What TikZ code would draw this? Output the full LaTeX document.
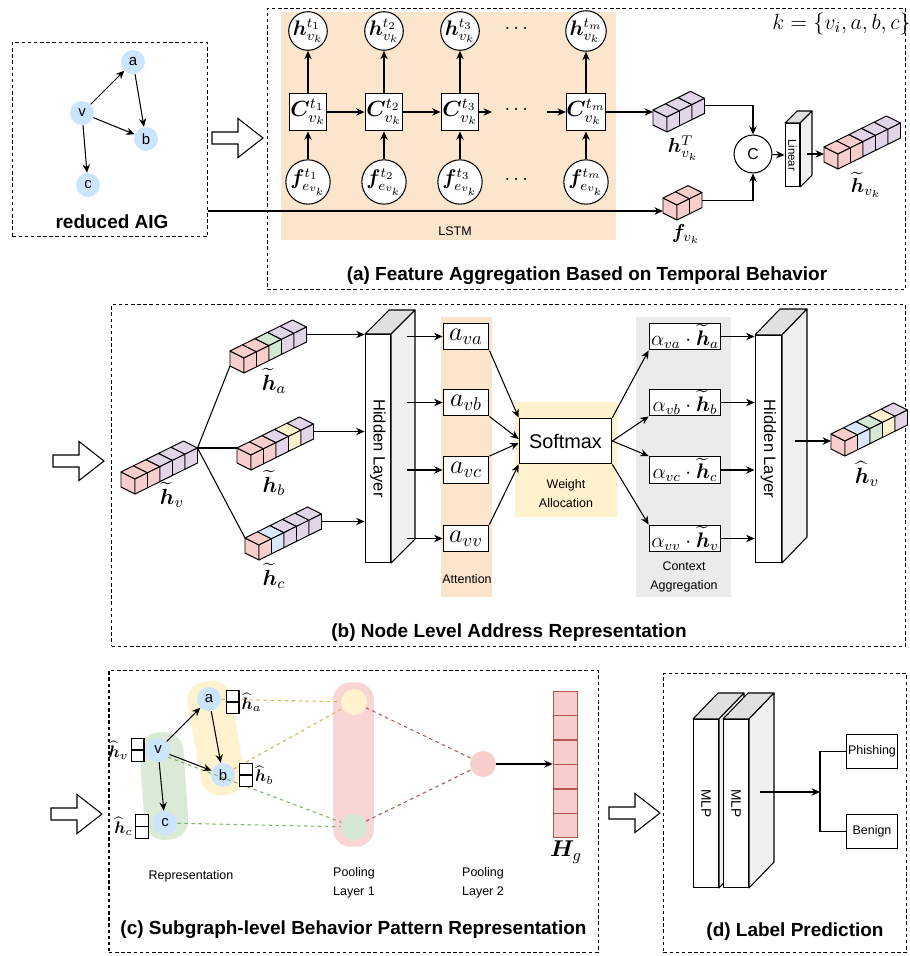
\RequirePackage{fix-cm}
\documentclass[tikz,border=0pt]{standalone}
\usepackage{amsmath,bm}
\usepackage[no-math]{fontspec}
\newfontfamily\arial{Liberation Sans}
\usetikzlibrary{arrows.meta,calc}
\newcommand{\pxu}{0.5669pt}
\definecolor{peach}{RGB}{252,229,205}
\definecolor{lyellow}{RGB}{255,242,204}
\definecolor{lgray}{RGB}{235,235,235}
\definecolor{cpink}{RGB}{248,206,204}
\definecolor{cpurple}{RGB}{225,213,231}
\definecolor{cgreen}{RGB}{213,232,212}
\definecolor{cyellow}{RGB}{255,242,204}
\definecolor{cblue}{RGB}{218,232,252}
\definecolor{nodeblue}{RGB}{204,229,255}
\definecolor{dred}{RGB}{184,84,80}
\definecolor{dorange}{RGB}{214,182,86}
\definecolor{dgreen}{RGB}{130,179,102}
\definecolor{slabside}{RGB}{240,240,240}
\definecolor{slabtop}{RGB}{224,224,224}
\definecolor{gblobc}{RGB}{218,234,214}
\definecolor{yblobc}{RGB}{255,242,206}
\definecolor{poolpink}{RGB}{248,214,212}
\tikzset{
  ln/.style={line width=0.6pt},
  arr/.style={line width=0.6pt, -{Stealth[length=4.8pt,width=4.2pt]}},
  dbox/.style={draw, line width=0.6pt, dash pattern=on 2pt off 1.5pt, inner sep=0pt},
  gnode/.style={circle, fill=nodeblue, minimum size=24*\pxu, inner sep=0pt, font=\arial\fontsize{8.5}{9}\selectfont},
  circ/.style={circle, draw, line width=0.6pt, fill=white, minimum size=36.5*\pxu, inner sep=0pt, font=\fontsize{12}{13}\selectfont},
  sqbox/.style={rectangle, draw, line width=0.6pt, fill=white, minimum size=38*\pxu, inner sep=0pt, font=\fontsize{12.5}{13}\selectfont},
  cube/.style={line width=0.55pt, line join=round},
  small/.style={font=\arial\fontsize{7.1}{10.8}\selectfont, align=center, inner sep=0pt},
  ttl/.style={font=\arial\bfseries\fontsize{10.8}{13}\selectfont, inner sep=0pt},
  mA/.style={font=\fontsize{11.5}{13}\selectfont, inner sep=0pt},
  mB/.style={font=\fontsize{12.5}{14}\selectfont, inner sep=0pt},
  mC/.style={font=\fontsize{9.5}{11}\selectfont, inner sep=1pt},
  abox/.style={draw, line width=0.6pt, fill=white, minimum width=46*\pxu, minimum height=27*\pxu, inner sep=0pt, font=\fontsize{15}{16}\selectfont},
  cbox/.style={draw, line width=0.6pt, fill=white, minimum width=72*\pxu, minimum height=27*\pxu, inner sep=0pt, font=\fontsize{12}{13}\selectfont},
  lbox/.style={draw, line width=0.6pt, fill=white, minimum width=52*\pxu, minimum height=35*\pxu, inner sep=0pt, font=\arial\fontsize{7.1}{9}\selectfont},
  dashY/.style={draw=dorange, line width=0.6pt, dash pattern=on 2pt off 2pt},
  dashG/.style={draw=dgreen, line width=0.6pt, dash pattern=on 2pt off 2pt},
  dashR/.style={draw=dred, line width=0.6pt, dash pattern=on 2pt off 2pt},
  hgcell/.style={draw=dred, fill=cpink, line width=0.6pt, minimum width=25*\pxu, minimum height=24.5*\pxu, inner sep=0pt},
  vbox/.style={draw, line width=0.6pt, fill=white, minimum width=13*\pxu, minimum height=24*\pxu, inner sep=0pt},
}
% isometric row of cubes: name, x, y (front-top-left), n, first colour, colour list
\newcommand{\cuberow}[6]{%
  \draw[cube,fill=#5] ({#2},{#3}) -- ++(14,7) -- ++(0,15) -- ++(-14,-7) -- cycle;
  \foreach \cubecol [count=\cubei from 0] in {#6} {
    \draw[cube,fill=\cubecol] ({#2+\cubei*12.5},{#3-\cubei*6.2}) -- ++(12.5,-6.2) -- ++(14,7) -- ++(-12.5,6.2) -- cycle;
    \draw[cube,fill=\cubecol] ({#2+14+\cubei*12.5},{#3+7-\cubei*6.2}) -- ++(12.5,-6.2) -- ++(0,15) -- ++(-12.5,6.2) -- cycle;
  }
  \coordinate (#1-tl) at ({#2},{#3});
  \coordinate (#1-bl) at ({#2},{#3+15});
  \coordinate (#1-in) at ({#2},{#3+7.5});
  \coordinate (#1-tr) at ({#2+14+#4*12.5},{#3+7-#4*6.2});
  \coordinate (#1-out) at ({#2+14+#4*12.5},{#3+14.5-#4*6.2});
}
% 3D slab: name, x1, y1, x2, y2, dx, dy, font, text
\newcommand{\slab}[9]{%
  \draw[ln,fill=slabtop,line join=round] ({#2},{#3}) -- ++(#6,-#7) -- ++({#4-#2},0) -- ({#4},{#3}) -- cycle;
  \draw[ln,fill=slabside,line join=round] ({#4},{#3}) -- ++(#6,-#7) -- ++(0,{#5-#3}) -- ({#4},{#5}) -- cycle;
  \node[draw,ln,fill=white,minimum width={(#4-#2)*0.5669pt},minimum height={(#5-#3)*0.5669pt},inner sep=0pt] (#1) at ({(#2+#4)/2},{(#3+#5)/2}) {};
  \node[rotate=-90,font=#8,inner sep=0pt] (#1-txt) at (#1) {#9};
}
\newcommand{\hollowarrow}[2]{%
  \draw[ln,fill=white,line join=miter] ({#1},{#2-6}) -- ++(26,0) -- ++(0,-13.5) -- ({#1+51},{#2}) -- ({#1+26},{#2+19.5}) -- ++(0,-13.5) -- ({#1},{#2+6}) -- cycle;}
\begin{document}
\begin{tikzpicture}[x=0.02cm,y=-0.02cm]
\fill[white] (0,0) rectangle (909,956);
\useasboundingbox (0,0) rectangle (909,956);

%%%%%%%%%%%% reduced AIG
\node[dbox, minimum width=196*\pxu, minimum height=195*\pxu] (aigbox) at (110,139.5) {};
\node[gnode] (ra) at (133,62) {a};
\node[gnode] (rv) at (82,113) {v};
\node[gnode] (rb) at (146,139) {b};
\node[gnode] (rc) at (88,185) {c};
\draw[arr] (rv) -- (ra);
\draw[arr] (rv) -- (rb);
\draw[arr] (rv) -- (rc);
\draw[arr] (ra) -- (rb);
\node[ttl] (aiglab) at (112,222) {reduced AIG};
\hollowarrow{212}{138}

%%%%%%%%%%%% (a)
\node[dbox, minimum width=641*\pxu, minimum height=282*\pxu] (boxA) at (586.5,149) {};
\fill[peach] (281,12) rectangle (616,240);
\node[small] (lstm) at (455,231) {LSTM};
\foreach \x/\n/\t in {308/1/t_1, 384/2/t_2, 460/3/t_3, 586/m/t_m} {
  \node[circ] (h\n) at (\x,31) {$\bm{h}^{\t}_{v_k}$};
  \node[sqbox] (C\n) at (\x,112) {$\bm{C}^{\t}_{v_k}$};
  \node[circ] (f\n) at (\x,182) {$\bm{f}^{\t}_{e_{v_k}}$};
  \draw[arr] (f\n) -- (C\n);
  \draw[arr] (C\n) -- (h\n);
}
\node[mA] (dots1) at (518,29) {$\cdots$};
\node[mA] (dots2) at (518,110) {$\cdots$};
\node[mA] (dots3) at (518,180) {$\cdots$};
\draw[arr] (C1) -- (C2);
\draw[arr] (C2) -- (C3);
\coordinate (c3end) at (492,112);
\draw[arr] (C3) -- (c3end);
\coordinate (cmstart) at (547,112);
\draw[arr] (cmstart) -- (Cm);

\cuberow{hT}{653}{110}{3}{cpurple}{cpurple,cpurple,cpurple}
\cuberow{fv}{663}{198}{2}{cpink}{cpink,cpink}
\draw[arr] (Cm.east) -- (Cm.east -| hT-tl);
\coordinate (aigout) at (208,211);
\draw[arr] (aigout) -- (aigout -| fv-tl);
\node[mA] (hTlab) at (683,148) {$\bm{h}^{T}_{v_k}$};
\node[mA] (fvlab) at (686,234) {$\bm{f}_{v_k}$};

\node[circ, minimum size=38*\pxu, font=\arial\fontsize{9}{10}\selectfont] (cc) at (753,154) {C};
\draw[arr] (hT-out) -| (cc);
\draw[arr] (fv-out) -| (cc);
\slab{lin}{785}{123}{800}{187}{12}{12}{\arial\fontsize{6.5}{7}\selectfont}{Linear}
\draw[arr] (cc) -- (lin.west);
\cuberow{hvk}{824}{147}{5}{cpink}{cpink,cpink,cpurple,cpurple,cpurple}
\coordinate (linout) at (807,154);
\draw[arr] (linout) -- (linout -| hvk-tl);
\node[mA] (hvklab) at (866,185) {$\widetilde{\bm{h}}_{v_k}$};
\node[mB, anchor=east] (klab) at (911,24) {$k=\{v_i,a,b,c\}$};
\node[ttl] (titleA) at (587,276) {(a) Feature Aggregation Based on Temporal Behavior};

%%%%%%%%%%%% (b)
\node[dbox, minimum width=797*\pxu, minimum height=343*\pxu] (boxB) at (508.5,475.5) {};
\hollowarrow{53}{461}
\cuberow{hv}{121}{472}{5}{cpink}{cpink,cpink,cpurple,cpurple,cpurple}
\cuberow{ha}{230}{351}{5}{cpink}{cpink,cpink,cgreen,cpurple,cpurple}
\cuberow{hb}{237}{448}{5}{cpink}{cpink,cpink,cpurple,cyellow,cpurple}
\cuberow{hc}{245}{538}{5}{cpink}{cpink,cblue,cpurple,cpurple,cpurple}
\draw[ln] (hv-tr) -- (ha-bl);
\draw[ln] (hv-tr) -- (hb-tl);
\draw[ln] (hv-tr) -- (hc-tl);
\node[mB] (hvlab) at (172,495) {$\widetilde{\bm{h}}_v$};
\node[mB] (halab) at (274,381) {$\widetilde{\bm{h}}_a$};
\node[mB] (hblab) at (274,483) {$\widetilde{\bm{h}}_b$};
\node[mB] (hclab) at (274,576) {$\widetilde{\bm{h}}_c$};
\slab{hl1}{365}{334}{391}{563}{24}{24}{\arial\fontsize{9.4}{10}\selectfont}{Hidden Layer}
\draw[arr] (ha-out) -- (ha-out -| hl1.west);
\draw[arr] (hb-out) -- (hb-out -| hl1.west);
\draw[arr] (hc-out) -- (hc-out -| hl1.west);

\fill[peach] (441,317) rectangle (492,597);
\node[small] (attlab) at (467,579) {Attention};
\fill[lyellow] (515,402) rectangle (617,517);
\node[small] (walab) at (566,494) {Weight\\Allocation};
\fill[lgray] (636,317) rectangle (731,597);
\node[small] (calab) at (684,577) {Context\\Aggregation};

\foreach \nm/\yy/\sub in {ava/336.5/va, avb/402.5/vb, avc/470/vc, avv/538.5/vv} {
  \node[abox] (\nm) at (466,\yy) {$a_{\sub}$};
  \coordinate (s\nm) at (407,\yy);
  \draw[arr] (s\nm) -- (\nm);
}
\node[draw, ln, fill=white, minimum width=93*\pxu, minimum height=46*\pxu, inner sep=0pt, font=\arial\fontsize{11.3}{12}\selectfont] (smx) at (565.5,441) {Softmax};
\draw[arr] (ava.south east) -- (smx.north west);
\draw[arr] (avb.south east) -- ($(smx.west)+(0,-2)$);
\draw[arr] (avc.north east) -- ($(smx.west)+(0,2)$);
\draw[arr] (avv.north east) -- (smx.south west);
\foreach \nm/\yy/\sub/\hs in {cb1/336.5/va/a, cb2/402.5/vb/b, cb3/470/vc/c, cb4/538.5/vv/v} {
  \node[cbox] (\nm) at (685,\yy) {$\alpha_{\sub}\cdot\widetilde{\bm{h}}_{\hs}$};
}
\draw[arr] (smx.north east) -- (cb1.south west);
\draw[arr] (smx.east) -- (cb2.south west);
\draw[arr] (smx.east) -- (cb3.north west);
\draw[arr] (smx.south east) -- (cb4.north west);
\slab{hl2}{755}{335}{782}{563}{25}{26}{\arial\fontsize{9.4}{10}\selectfont}{Hidden Layer}
\foreach \nm in {cb1,cb2,cb3,cb4} { \draw[arr] (\nm) -- (\nm -| hl2.west); }
\cuberow{hvh}{831}{434}{5}{cpink}{cpink,cblue,cgreen,cyellow,cpurple}
\coordinate (hl2o) at (795,441);
\draw[arr] (hl2o) -- (hl2o -| hvh-tl);
\node[mB] (hvhlab) at (867,474) {$\widehat{\bm{h}}_v$};
\node[ttl] (titleB) at (509,633) {(b) Node Level Address Representation};

%%%%%%%%%%%% (c)
\node[dbox, minimum width=491*\pxu, minimum height=283*\pxu] (boxC) at (353.5,811.5) {};
\hollowarrow{51}{814}
\node[fill=gblobc, rounded corners=11pt, minimum width=44*\pxu, minimum height=108*\pxu, rotate=4, inner sep=0pt] (gblob) at (164,786) {};
\node[fill=yblobc, rounded corners=11pt, minimum width=44*\pxu, minimum height=116*\pxu, rotate=10, inner sep=0pt] (yblob) at (216,738) {};
\node[fill=poolpink, rounded corners=10pt, minimum width=41*\pxu, minimum height=165*\pxu, inner sep=0pt] (pool1) at (353.5,764.5) {};
\node[circle, fill=cyellow, minimum size=26*\pxu, inner sep=0pt] (p1y) at (354,702) {};
\node[circle, fill=cgreen, minimum size=26*\pxu, inner sep=0pt] (p1g) at (354,827) {};
\node[circle, fill=cpink, minimum size=26*\pxu, inner sep=0pt] (p2) at (483,764) {};
\node[gnode] (ca) at (209,699) {a};
\node[gnode] (cv) at (158,750) {v};
\node[gnode] (cb) at (223,775) {b};
\node[gnode] (ccn) at (165,823) {c};
\draw[dashY] (ca) -- (p1y);
\draw[dashY] (cb) -- (p1y);
\draw[dashG] (cv.-35) -- (p1g);
\draw[dashG] (ccn) -- (p1g);
\draw[dashR] (p1y) -- (p2);
\draw[dashR] (p1g) -- (p2);
\draw[arr] (cv) -- (ca);
\draw[arr] (cv) -- (cb);
\draw[arr] (cv) -- (ccn);
\draw[arr] (ca) -- (cb);
\foreach \nm/\xx/\yy in {vba/232.5/702, vbv/137.5/750, vbb/246/775, vbc/142/826.5} {
  \node[vbox] (\nm) at (\xx,\yy) {};
  \draw[ln] (\nm.west) -- (\nm.east);
}
\node[mC, anchor=west] (lha) at (vba.east) {$\widehat{\bm{h}}_a$};
\node[mC, anchor=west] (lhb) at (vbb.east) {$\widehat{\bm{h}}_b$};
\node[mC, anchor=east] (lhv) at (vbv.west) {$\widehat{\bm{h}}_v$};
\node[mC, anchor=east] (lhc) at (vbc.west) {$\widehat{\bm{h}}_c$};
\foreach \i in {0,...,5} {
  \node[hgcell] (hg\i) at (565.5,{703.25+\i*24.5}) {};
}
\draw[arr] (p2) -- (p2 -| hg3.west);
\node[font=\fontsize{13}{14}\selectfont, inner sep=0pt] (hglab) at (566,852) {$\bm{H}_g$};
\node[small] (replab) at (191,876) {Representation};
\node[small] (pl1lab) at (354,883) {Pooling\\Layer 1};
\node[small] (pl2lab) at (483,883) {Pooling\\Layer 2};
\node[ttl] (titleC) at (353.5,930) {(c) Subgraph-level Behavior Pattern Representation};

%%%%%%%%%%%% (d)
\node[dbox, minimum width=244*\pxu, minimum height=280*\pxu] (boxD) at (785,813) {};
\hollowarrow{609}{813}
\slab{mlp1}{693}{719}{719}{888}{25}{26}{\arial\fontsize{7.8}{9}\selectfont}{MLP}
\slab{mlp2}{723}{719}{749}{888}{25}{26}{\arial\fontsize{7.8}{9}\selectfont}{MLP}
\node[lbox] (phish) at (872,751.5) {Phishing};
\node[lbox] (benign) at (872,831.5) {Benign};
\coordinate (mlpo) at (760,792);
\coordinate (br) at (820,792);
\draw[arr] (mlpo) -- (br);
\draw[ln] (phish.west) -| (br) |- (benign.west);
\node[ttl] (titleD) at (795,932) {(d) Label Prediction};
\end{tikzpicture}
\end{document}
